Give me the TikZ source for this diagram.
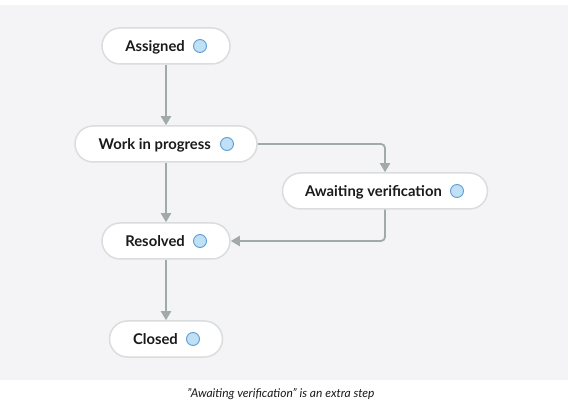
\documentclass[tikz,border=0pt]{standalone}
\usepackage{fontspec}
\setmainfont{Lato}
\usetikzlibrary{arrows.meta}
\definecolor{bg}{HTML}{F4F4F6}
\definecolor{boxline}{HTML}{D9DDDD}
\definecolor{conncol}{HTML}{A2A9A9}
\definecolor{dotfill}{HTML}{BFE0F5}
\definecolor{dotline}{HTML}{5D9ED6}
\definecolor{txt}{HTML}{1A1A1A}
\tikzset{
  statebox/.style={draw=boxline, line width=1.5pt, fill=white, rounded corners=18pt, minimum height=36pt, inner sep=0pt},
  statetext/.style={anchor=base east, inner sep=0pt, text=txt, font=\bfseries\fontsize{14.8}{17}\selectfont},
  dotmark/.style={circle, draw=dotline, fill=dotfill, line width=0.9pt, minimum size=13pt, inner sep=0pt},
  conn/.style={draw=conncol, line width=1.8pt, -{Triangle[length=9pt,width=10pt]}, rounded corners=4pt}
}
\begin{document}
\begin{tikzpicture}[x=1pt,y=-1pt]
\useasboundingbox (0,0) rectangle (568,414);
\fill[white] (0,0) rectangle (568,414);
\fill[bg] (0,5) rectangle (568,380);

\node[statebox, minimum width=128pt] (asg) at (166,46) {};
\node[dotmark] (asgd) at (200,46) {};
\node[statetext] (asgt) at (185,51.5) {Assigned};

\node[statebox, minimum width=182pt] (wip) at (166,144) {};
\node[dotmark] (wipd) at (227,144) {};
\node[statetext] (wipt) at (211,149.5) {Work in progress};

\node[statebox, minimum width=205pt] (awv) at (385,191) {};
\node[dotmark] (awvd) at (457,191) {};
\node[statetext] (awvt) at (442,196.5) {Awaiting verification};

\node[statebox, minimum width=128pt] (res) at (166,241) {};
\node[dotmark] (resd) at (200,241) {};
\node[statetext] (rest) at (185,246.5) {Resolved};

\node[statebox, minimum width=113pt] (cls) at (166,339) {};
\node[dotmark] (clsd) at (193,339) {};
\node[statetext] (clst) at (178,344.5) {Closed};

\draw[conn] (asg.south) -- (wip.north);
\draw[conn] (wip.south) -- (res.north);
\draw[conn] (res.south) -- (cls.north);
\draw[conn] (wip.east) -| (awv.north);
\draw[conn] (awv.south) |- (res.east);

\node[anchor=base, inner sep=0pt, text=txt, font=\itshape\fontsize{12}{14}\selectfont] (cap) at (281,397) {\symbol{34}Awaiting verification\symbol{34} is an extra step};
\end{tikzpicture}
\end{document}
